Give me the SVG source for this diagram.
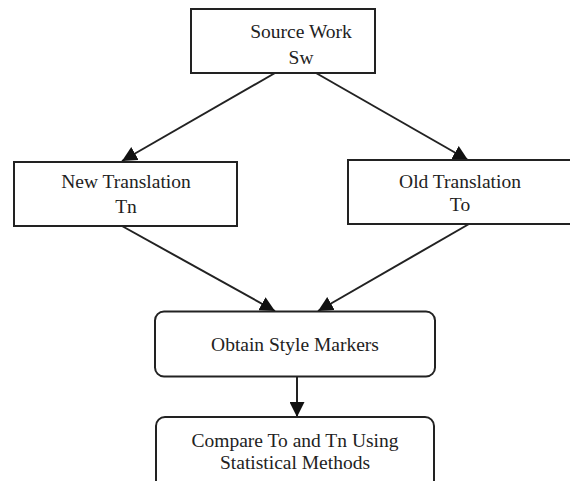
<svg xmlns="http://www.w3.org/2000/svg" width="570" height="481" viewBox="0 0 570 481">
<defs>
<style>
.box{fill:#fff;stroke:#222;stroke-width:2}
.t{font-family:"Liberation Serif","Times New Roman",serif;font-size:19.5px;fill:#222;text-anchor:middle}
.c{stroke:#222;stroke-width:2;fill:none}
</style>
<marker id="ah" markerUnits="userSpaceOnUse" markerWidth="15" markerHeight="15" refX="15" refY="7.5" orient="auto">
<path d="M0,0 L15,7.5 L0,15 z" fill="#111"/>
</marker>
</defs>
<rect width="570" height="481" fill="#fff"/>
<g id="connectors">
<line class="c" x1="275" y1="73" x2="122" y2="161" marker-end="url(#ah)"/>
<line class="c" x1="316" y1="73" x2="468" y2="160" marker-end="url(#ah)"/>
<line class="c" x1="122" y1="226" x2="275" y2="311" marker-end="url(#ah)"/>
<line class="c" x1="469" y1="224" x2="318" y2="311" marker-end="url(#ah)"/>
<line class="c" x1="297" y1="377" x2="297" y2="417" marker-end="url(#ah)"/>
</g>
<g id="source-work">
<rect class="box" x="191" y="9" width="184" height="64"/>
<text class="t" x="301" y="38">Source Work</text>
<text class="t" x="301" y="64">Sw</text>
</g>
<g id="new-translation">
<rect class="box" x="14" y="162" width="223" height="64"/>
<text class="t" x="126" y="188">New Translation</text>
<text class="t" x="126" y="213">Tn</text>
</g>
<g id="old-translation">
<rect class="box" x="348" y="160" width="226" height="64"/>
<text class="t" x="460" y="188">Old Translation</text>
<text class="t" x="460" y="211">To</text>
</g>
<g id="obtain-style-markers">
<rect class="box" x="155" y="311.5" width="280" height="65" rx="9"/>
<text class="t" x="295" y="351">Obtain Style Markers</text>
</g>
<g id="compare">
<rect class="box" x="156" y="417" width="278" height="80" rx="9"/>
<text class="t" x="295" y="447">Compare To and Tn Using</text>
<text class="t" x="295" y="469">Statistical Methods</text>
</g>
</svg>
